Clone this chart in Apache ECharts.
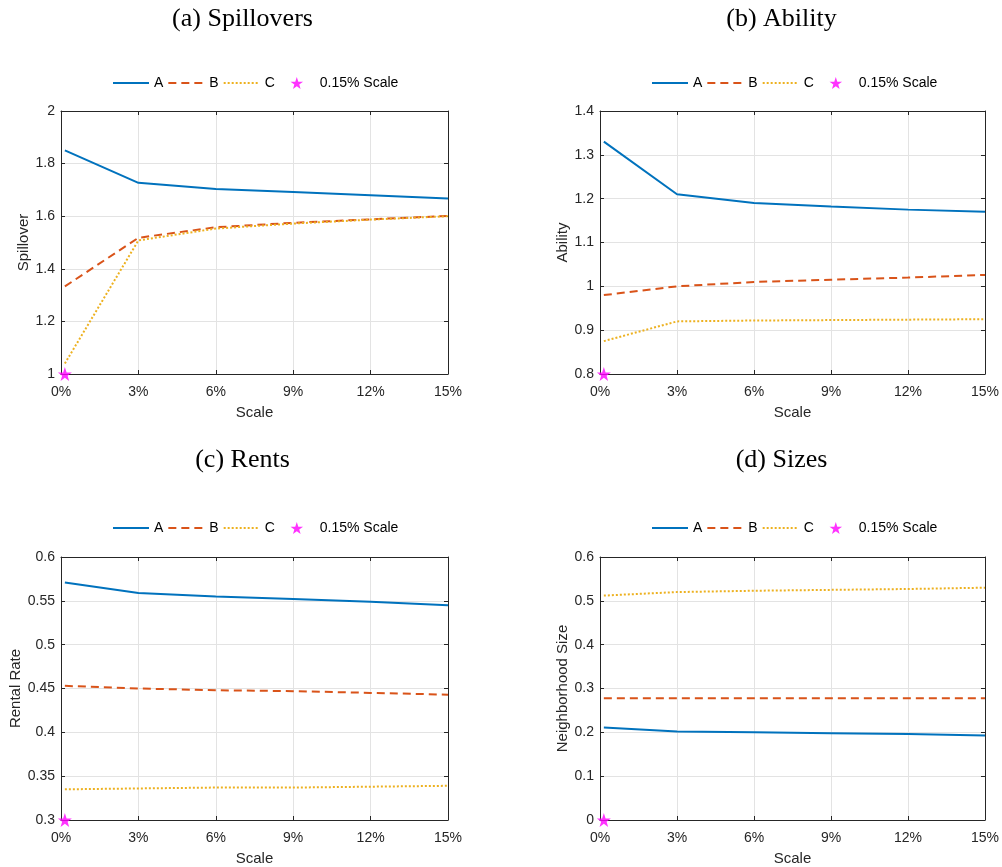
<!DOCTYPE html>
<html>
<head>
<meta charset="utf-8">
<script src="https://cdn.jsdelivr.net/npm/echarts@6/dist/echarts.min.js"></script>
<style>
  html, body { margin: 0; padding: 0; background: #fff; }
  #chart { width: 1002px; height: 867px; }
</style>
</head>
<body>
<div id="chart"></div>
<script>
// Scale levels (percent); the first point is the 0.15% baseline
const scaleX = [0.15, 3, 6, 9, 12, 15];
const xTickMin = 0, xTickMax = 15, xTickStep = 3;

// (a) Spillovers
const spillA = [1.850, 1.727, 1.703, 1.692, 1.680, 1.667];
const spillB = [1.333, 1.518, 1.558, 1.575, 1.588, 1.601];
const spillC = [1.040, 1.508, 1.553, 1.572, 1.587, 1.600];
const spillStar = [0.15, 1.0];

// (b) Ability
const abilA = [1.330, 1.210, 1.190, 1.182, 1.175, 1.170];
const abilB = [0.980, 1.000, 1.010, 1.015, 1.020, 1.026];
const abilC = [0.875, 0.920, 0.922, 0.923, 0.924, 0.925];
const abilStar = [0.15, 0.8];

// (c) Rents
const rentA = [0.571, 0.559, 0.555, 0.552, 0.549, 0.545];
const rentB = [0.453, 0.450, 0.448, 0.447, 0.445, 0.443];
const rentC = [0.335, 0.336, 0.337, 0.337, 0.338, 0.339];
const rentStar = [0.15, 0.3];

// (d) Sizes
const sizeA = [0.211, 0.202, 0.200, 0.198, 0.196, 0.193];
const sizeB = [0.278, 0.278, 0.278, 0.278, 0.278, 0.278];
const sizeC = [0.512, 0.520, 0.523, 0.525, 0.527, 0.530];
const sizeStar = [0.15, 0.0];

const panelTitles = ['(a) Spillovers', '(b) Ability', '(c) Rents', '(d) Sizes'];
const yNames = ['Spillover', 'Ability', 'Rental Rate', 'Neighborhood Size'];
const yRanges = [[1, 2, 0.2], [0.8, 1.4, 0.1], [0.3, 0.6, 0.05], [0, 0.6, 0.1]];

const panels = [
  { A: spillA, B: spillB, C: spillC, star: spillStar },
  { A: abilA, B: abilB, C: abilC, star: abilStar },
  { A: rentA, B: rentB, C: rentC, star: rentStar },
  { A: sizeA, B: sizeB, C: sizeC, star: sizeStar }
];

// plot-area boxes for the 2x2 layout
const boxes = [
  { left: 61, top: 111, width: 387, height: 263 },
  { left: 600, top: 111, width: 387, height: 263 },
  { left: 61, top: 557, width: 387, height: 264 },
  { left: 600, top: 557, width: 387, height: 264 }
];
const yNameGaps = [30, 29, 35, 29];

const COLORS = { A: '#0072BD', B: '#D95319', C: '#EDB120', star: '#FF00FF' };
const AXIS_COLOR = '#262626';
const GRID_COLOR = '#e3e3e3';
const SANS = 'Liberation Sans, Arial, sans-serif';
const STAR = 'path://M50,0 L61.8,35.1 L98.1,35.1 L68.9,56.8 L79.4,91 L50,70 L20.6,91 L31.1,56.8 L1.9,35.1 L38.2,35.1 Z';
// legend star: same shape centred in a 36:13 box, with tiny corner anchors so the
// icon occupies the full legend slot like the line entries do
const LEGEND_STAR = 'path://M0,0 L0.01,0 Z M360,130 L359.99,130 Z ' +
  'M180,6 L195.3,51.6 L242.5,51.6 L204.6,79.8 L218.2,124.3 L180,97 L141.8,124.3 ' +
  'L155.4,79.8 L117.5,51.6 L164.7,51.6 Z';

const pairs = (ys) => scaleX.map((x, i) => [x, ys[i]]);

const grid = [], xAxis = [], yAxis = [], series = [], title = [], legend = [];

boxes.forEach((b, i) => {
  grid.push({ left: b.left, top: b.top, width: b.width, height: b.height, containLabel: false });

  const [ymin, ymax, ystep] = yRanges[i];
  const tickCommon = { show: true, inside: true, length: 4, lineStyle: { color: AXIS_COLOR, width: 1 } };
  const lineCommon = { show: true, onZero: false, lineStyle: { color: AXIS_COLOR, width: 1 } };

  // bottom x axis with labels and grid
  xAxis.push({
    type: 'value', gridIndex: i, min: xTickMin, max: xTickMax, interval: xTickStep,
    position: 'bottom',
    name: 'Scale', nameLocation: 'middle', nameGap: 31,
    nameTextStyle: { fontFamily: SANS, fontSize: 15, color: AXIS_COLOR },
    axisLine: lineCommon, axisTick: tickCommon,
    axisLabel: { formatter: '{value}%', fontFamily: SANS, fontSize: 14, color: AXIS_COLOR, margin: 11, hideOverlap: false },
    splitLine: { show: true, lineStyle: { color: GRID_COLOR, width: 1 } }
  });
  // top x axis closing the box
  xAxis.push({
    type: 'value', gridIndex: i, min: xTickMin, max: xTickMax, interval: xTickStep,
    position: 'top', axisLine: lineCommon, axisTick: tickCommon,
    axisLabel: { show: false }, splitLine: { show: false }
  });
  // left y axis
  yAxis.push({
    type: 'value', gridIndex: i, min: ymin, max: ymax, interval: ystep,
    position: 'left',
    name: yNames[i], nameLocation: 'middle', nameGap: yNameGaps[i],
    nameTextStyle: { fontFamily: SANS, fontSize: 15, color: AXIS_COLOR },
    axisLine: lineCommon, axisTick: tickCommon,
    axisLabel: { fontFamily: SANS, fontSize: 14, color: AXIS_COLOR, margin: 6 },
    splitLine: { show: true, lineStyle: { color: GRID_COLOR, width: 1 } }
  });
  // right y axis closing the box
  yAxis.push({
    type: 'value', gridIndex: i, min: ymin, max: ymax, interval: ystep,
    position: 'right', axisLine: lineCommon, axisTick: tickCommon,
    axisLabel: { show: false }, splitLine: { show: false }
  });

  const p = panels[i];
  const base = {
    type: 'line', xAxisIndex: 2 * i, yAxisIndex: 2 * i,
    symbol: 'circle', symbolSize: 1, showSymbol: false,
    silent: true, animation: false, z: 3
  };
  series.push(Object.assign({}, base, {
    name: 'A', data: pairs(p.A), itemStyle: { color: COLORS.A },
    lineStyle: { color: COLORS.A, width: 2 }
  }));
  series.push(Object.assign({}, base, {
    name: 'B', data: pairs(p.B), itemStyle: { color: COLORS.B },
    lineStyle: { color: COLORS.B, width: 2, type: [8, 5], cap: 'butt' }
  }));
  series.push(Object.assign({}, base, {
    name: 'C', data: pairs(p.C), itemStyle: { color: COLORS.C },
    lineStyle: { color: COLORS.C, width: 2, type: [2, 2], cap: 'butt' }
  }));
  series.push({
    type: 'scatter', name: '0.15% Scale', xAxisIndex: 2 * i, yAxisIndex: 2 * i,
    data: [p.star], symbol: STAR, symbolSize: 14, silent: true, animation: false, z: 5,
    itemStyle: { color: COLORS.star }
  });

  title.push({
    text: panelTitles[i], left: b.left + b.width / 2 - 17, top: i < 2 ? 1 : 442, textAlign: 'center',
    textStyle: { fontFamily: 'Liberation Serif, Times New Roman, serif', fontSize: 26, fontWeight: 'normal', color: '#000' }
  });

  // line entries show only their stroke; the star entry shows its marker
  const hideMarker = { opacity: 0 };
  legend.push({
    data: [
      { name: 'A', itemStyle: hideMarker },
      { name: 'B', itemStyle: hideMarker },
      { name: 'C', itemStyle: hideMarker },
      { name: '0.15% Scale', icon: LEGEND_STAR }
    ],
    orient: 'horizontal',
    left: b.left + 51, top: i < 2 ? 76 : 521,
    padding: 0,
    itemWidth: 36, itemHeight: 13, itemGap: 4,
    selectedMode: false,
    textStyle: { fontFamily: SANS, fontSize: 14, color: '#000' }
  });
});

const chart = echarts.init(document.getElementById('chart'), null, { renderer: 'canvas' });
chart.setOption({
  backgroundColor: '#ffffff',
  animation: false,
  title, legend, grid, xAxis, yAxis, series
});
</script>
</body>
</html>
